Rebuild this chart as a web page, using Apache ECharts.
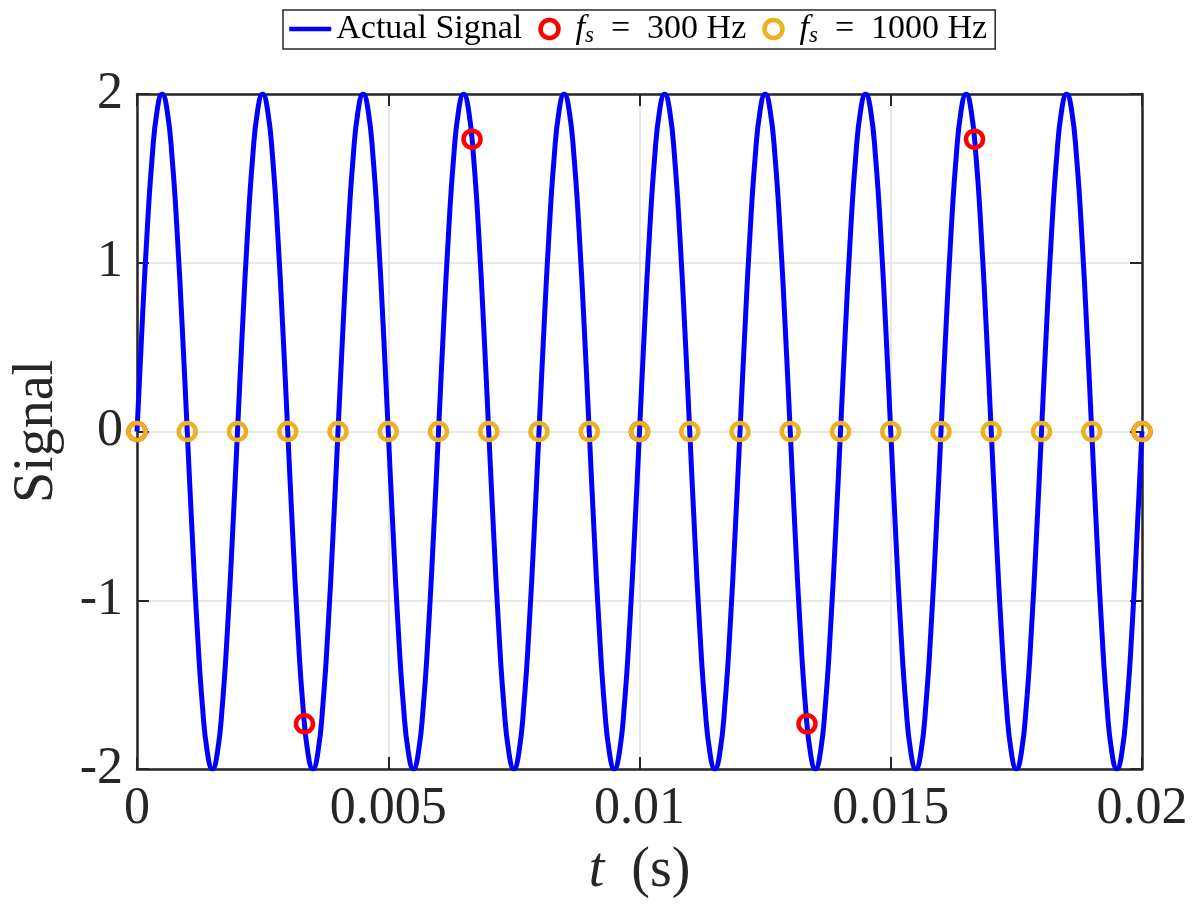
<!DOCTYPE html>
<html>
<head>
<meta charset="utf-8">
<script src="https://cdn.jsdelivr.net/npm/echarts@6/dist/echarts.min.js"></script>
<style>
html,body{margin:0;padding:0;background:#fff;}
#chart{width:1194px;height:909px;}
</style>
</head>
<body>
<div id="chart"></div>
<script>
// ---- data ----
var signalT = [
0,0.0001,0.0002,0.0003,0.0004,0.0005,0.0006,0.0007,0.0008,0.0009,0.001,0.0011,0.0012,0.0013,0.0014,0.0015,0.0016,0.0017,0.0018,0.0019,
0.002,0.0021,0.0022,0.0023,0.0024,0.0025,0.0026,0.0027,0.0028,0.0029,0.003,0.0031,0.0032,0.0033,0.0034,0.0035,0.0036,0.0037,0.0038,0.0039,
0.004,0.0041,0.0042,0.0043,0.0044,0.0045,0.0046,0.0047,0.0048,0.0049,0.005,0.0051,0.0052,0.0053,0.0054,0.0055,0.0056,0.0057,0.0058,0.0059,
0.006,0.0061,0.0062,0.0063,0.0064,0.0065,0.0066,0.0067,0.0068,0.0069,0.007,0.0071,0.0072,0.0073,0.0074,0.0075,0.0076,0.0077,0.0078,0.0079,
0.008,0.0081,0.0082,0.0083,0.0084,0.0085,0.0086,0.0087,0.0088,0.0089,0.009,0.0091,0.0092,0.0093,0.0094,0.0095,0.0096,0.0097,0.0098,0.0099,
0.01,0.0101,0.0102,0.0103,0.0104,0.0105,0.0106,0.0107,0.0108,0.0109,0.011,0.0111,0.0112,0.0113,0.0114,0.0115,0.0116,0.0117,0.0118,0.0119,
0.012,0.0121,0.0122,0.0123,0.0124,0.0125,0.0126,0.0127,0.0128,0.0129,0.013,0.0131,0.0132,0.0133,0.0134,0.0135,0.0136,0.0137,0.0138,0.0139,
0.014,0.0141,0.0142,0.0143,0.0144,0.0145,0.0146,0.0147,0.0148,0.0149,0.015,0.0151,0.0152,0.0153,0.0154,0.0155,0.0156,0.0157,0.0158,0.0159,
0.016,0.0161,0.0162,0.0163,0.0164,0.0165,0.0166,0.0167,0.0168,0.0169,0.017,0.0171,0.0172,0.0173,0.0174,0.0175,0.0176,0.0177,0.0178,0.0179,
0.018,0.0181,0.0182,0.0183,0.0184,0.0185,0.0186,0.0187,0.0188,0.0189,0.019,0.0191,0.0192,0.0193,0.0194,0.0195,0.0196,0.0197,0.0198,0.0199,
0.02];
var signalV = [
0,0.618,1.176,1.618,1.902,2,1.902,1.618,1.176,0.618,0,-0.618,-1.176,-1.618,-1.902,-2,-1.902,-1.618,-1.176,-0.618,
0,0.618,1.176,1.618,1.902,2,1.902,1.618,1.176,0.618,0,-0.618,-1.176,-1.618,-1.902,-2,-1.902,-1.618,-1.176,-0.618,
0,0.618,1.176,1.618,1.902,2,1.902,1.618,1.176,0.618,0,-0.618,-1.176,-1.618,-1.902,-2,-1.902,-1.618,-1.176,-0.618,
0,0.618,1.176,1.618,1.902,2,1.902,1.618,1.176,0.618,0,-0.618,-1.176,-1.618,-1.902,-2,-1.902,-1.618,-1.176,-0.618,
0,0.618,1.176,1.618,1.902,2,1.902,1.618,1.176,0.618,0,-0.618,-1.176,-1.618,-1.902,-2,-1.902,-1.618,-1.176,-0.618,
0,0.618,1.176,1.618,1.902,2,1.902,1.618,1.176,0.618,0,-0.618,-1.176,-1.618,-1.902,-2,-1.902,-1.618,-1.176,-0.618,
0,0.618,1.176,1.618,1.902,2,1.902,1.618,1.176,0.618,0,-0.618,-1.176,-1.618,-1.902,-2,-1.902,-1.618,-1.176,-0.618,
0,0.618,1.176,1.618,1.902,2,1.902,1.618,1.176,0.618,0,-0.618,-1.176,-1.618,-1.902,-2,-1.902,-1.618,-1.176,-0.618,
0,0.618,1.176,1.618,1.902,2,1.902,1.618,1.176,0.618,0,-0.618,-1.176,-1.618,-1.902,-2,-1.902,-1.618,-1.176,-0.618,
0,0.618,1.176,1.618,1.902,2,1.902,1.618,1.176,0.618,0,-0.618,-1.176,-1.618,-1.902,-2,-1.902,-1.618,-1.176,-0.618,
0];
var fs300T = [0, 0.003333, 0.006667, 0.01, 0.013333, 0.016667, 0.02];
var fs300V = [0, -1.732, 1.732, 0, -1.732, 1.732, 0];
var fs1000T = [0,0.001,0.002,0.003,0.004,0.005,0.006,0.007,0.008,0.009,0.01,0.011,0.012,0.013,0.014,0.015,0.016,0.017,0.018,0.019,0.02];
var fs1000V = [0,0,0,0,0,0,0,0,0,0,0,0,0,0,0,0,0,0,0,0,0];
var seriesNames = ['Actual Signal', 'fs300', 'fs1000'];
var xTicks = {min: 0, max: 0.02, interval: 0.005};
var yTicks = {min: -2, max: 2, interval: 1};

function pairs(t, v) { return t.map(function (x, i) { return [x, v[i]]; }); }

var FONT = 'Liberation Serif';
var AX = '#262626';

var chart = echarts.init(document.getElementById('chart'), null, {renderer: 'canvas'});

var baseAxis = function () {
  return {
    axisLine: {show: true, onZero: false, lineStyle: {color: AX, width: 2.5}},
    axisTick: {show: true, inside: true, length: 12, lineStyle: {color: AX, width: 2}},
  };
};

var option = {
  animation: false,
  backgroundColor: '#fff',
  grid: {left: 137, right: 52, top: 94, bottom: 140, containLabel: false},
  legend: {
    left: 283, top: 10,
    padding: [2, 8, 2, 4],
    itemGap: 16,
    itemWidth: 42, itemHeight: 18,
    borderColor: AX, borderWidth: 1.5,
    backgroundColor: '#fff',
    data: [
      {name: seriesNames[0], itemStyle: {color: 'rgba(0,0,0,0)', borderWidth: 0, opacity: 0}, lineStyle: {color: '#0000ff', width: 4.5}},
      {name: seriesNames[1], icon: 'circle', itemStyle: {color: 'rgba(0,0,0,0)', borderColor: '#ff0000', borderWidth: 4.5}},
      {name: seriesNames[2], icon: 'circle', itemStyle: {color: 'rgba(0,0,0,0)', borderColor: '#EDB120', borderWidth: 4.5}}
    ],
    textStyle: {
      fontFamily: FONT, fontSize: 34, color: '#000',
      rich: {
        n: {fontFamily: FONT, fontSize: 34, color: '#000', lineHeight: 36},
        i: {fontFamily: FONT, fontSize: 34, fontStyle: 'italic', color: '#000', lineHeight: 36},
        s: {fontFamily: FONT, fontSize: 23, fontStyle: 'italic', color: '#000', lineHeight: 18, verticalAlign: 'bottom'}
      }
    },
    formatter: function (name) {
      if (name === 'fs300') return '{i|f}{s|s}{n|  =  300 Hz}';
      if (name === 'fs1000') return '{i|f}{s|s}{n|  =  1000 Hz}';
      return '{n|' + name + '}';
    }
  },
  xAxis: [
    Object.assign(baseAxis(), {
      type: 'value', position: 'bottom',
      min: xTicks.min, max: xTicks.max, interval: xTicks.interval,
      splitLine: {show: true, lineStyle: {color: '#e0e0e0', width: 1.5}},
      axisLabel: {fontFamily: FONT, fontSize: 52, color: AX, margin: 14},
      name: '{i|t}  {n|(s)}',
      nameLocation: 'middle', nameGap: 74,
      nameTextStyle: {
        fontFamily: FONT, fontSize: 54, color: AX,
        rich: {
          i: {fontFamily: FONT, fontSize: 56, fontStyle: 'italic', color: AX},
          n: {fontFamily: FONT, fontSize: 56, color: AX}
        }
      }
    }),
    Object.assign(baseAxis(), {
      type: 'value', position: 'top',
      min: xTicks.min, max: xTicks.max, interval: xTicks.interval,
      splitLine: {show: false}, axisLabel: {show: false}
    })
  ],
  yAxis: [
    Object.assign(baseAxis(), {
      type: 'value', position: 'left',
      min: yTicks.min, max: yTicks.max, interval: yTicks.interval,
      splitLine: {show: true, lineStyle: {color: '#e0e0e0', width: 1.5}},
      axisLabel: {fontFamily: FONT, fontSize: 52, color: AX, margin: 14},
      name: 'Signal', nameLocation: 'middle', nameGap: 72,
      nameTextStyle: {fontFamily: FONT, fontSize: 56, color: AX}
    }),
    Object.assign(baseAxis(), {
      type: 'value', position: 'right',
      min: yTicks.min, max: yTicks.max, interval: yTicks.interval,
      splitLine: {show: false}, axisLabel: {show: false}
    })
  ],
  series: [
    {
      name: seriesNames[0], type: 'line', xAxisIndex: 0, yAxisIndex: 0,
      data: pairs(signalT, signalV),
      symbol: 'none', smooth: 0.5, clip: true,
      lineStyle: {color: '#0000ff', width: 5},
      itemStyle: {color: '#0000ff'},
      z: 2
    },
    {
      name: seriesNames[1], type: 'scatter', xAxisIndex: 0, yAxisIndex: 0,
      data: pairs(fs300T, fs300V),
      symbol: 'circle', symbolSize: 17,
      itemStyle: {color: 'rgba(0,0,0,0)', borderColor: '#ff0000', borderWidth: 4.5, opacity: 1},
      z: 3
    },
    {
      name: seriesNames[2], type: 'scatter', xAxisIndex: 0, yAxisIndex: 0,
      data: pairs(fs1000T, fs1000V),
      symbol: 'circle', symbolSize: 17,
      itemStyle: {color: 'rgba(0,0,0,0)', borderColor: '#EDB120', borderWidth: 4.5, opacity: 1},
      z: 4
    }
  ]
};
chart.setOption(option);
</script>
</body>
</html>
